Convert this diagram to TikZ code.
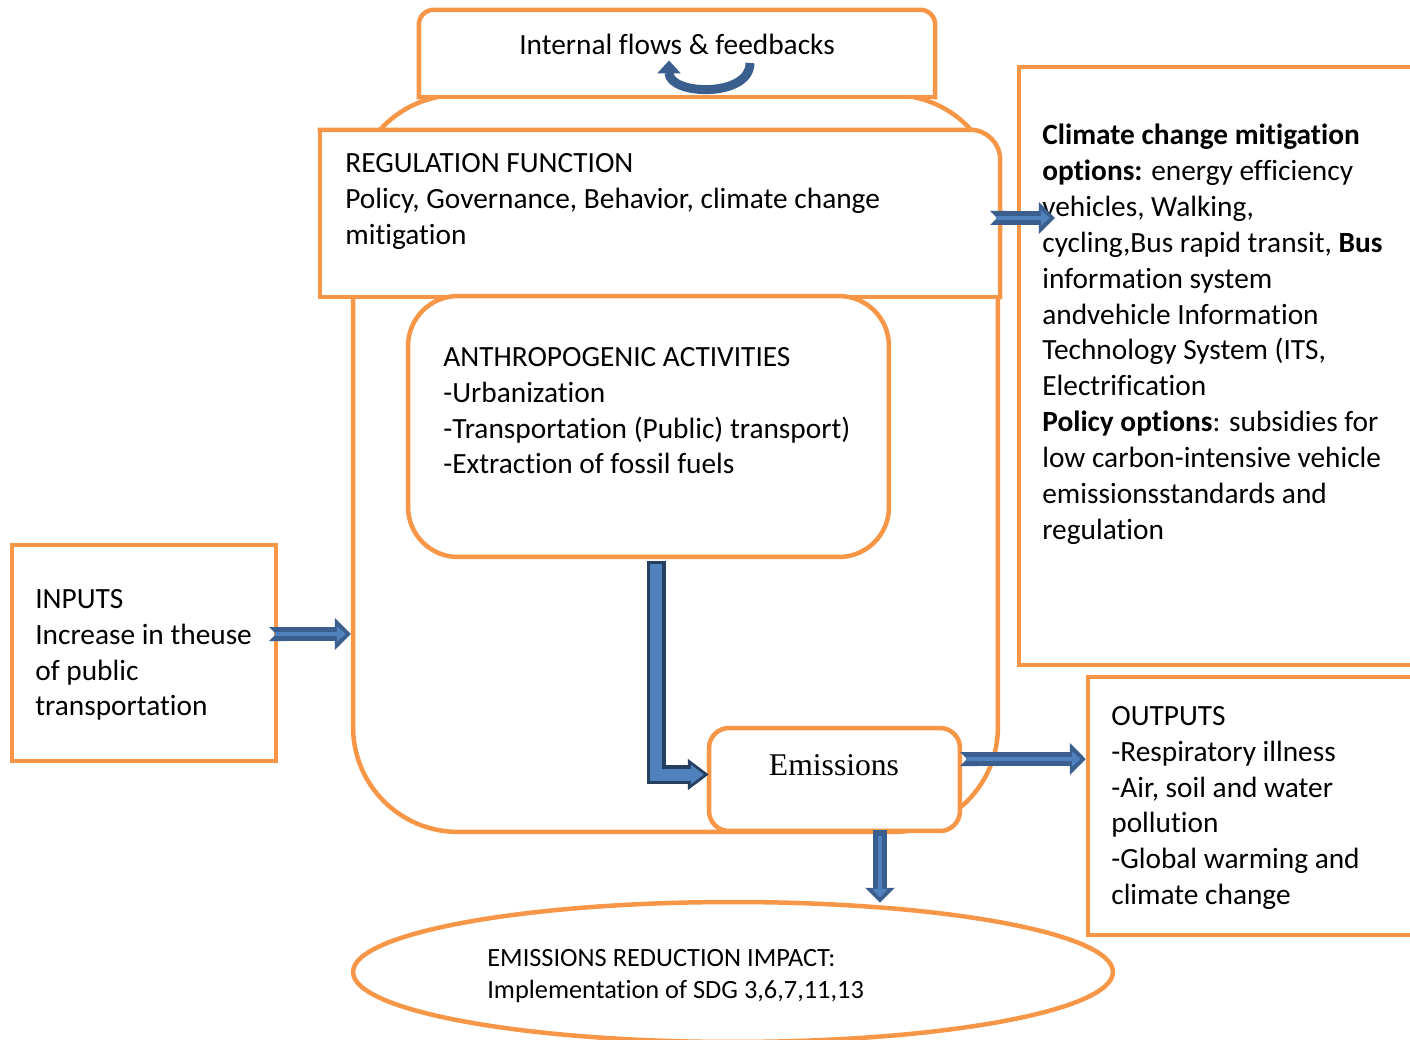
\documentclass[tikz,border=0pt]{standalone}
\usepackage{fontspec}
\setmainfont[Ligatures=NoCommon, Contextuals=NoAlternate]{Carlito}
\newfontfamily\timesfont{Liberation Serif}
\usetikzlibrary{arrows.meta,positioning,calc,shapes.geometric}

\definecolor{boxorange}{HTML}{F79646}
\definecolor{arrowblue}{HTML}{4F81BD}
\definecolor{arrowedge}{HTML}{3A5F8F}
\definecolor{arrowdark}{HTML}{243F60}

\tikzset{
  box/.style={draw=boxorange, line width=0.09cm, fill=white, inner sep=0pt},
  rim/.style={draw=boxorange, line width=0.09cm, line cap=rect},
  txt/.style={align=left, inner sep=0pt, anchor=north west, font=\fontsize{16.7pt}{20.4pt}\selectfont},
  flowout/.style={draw=arrowedge, line width=0.28cm, {Triangle Cap[reversed]}-{Triangle[length=0.32cm,width=0.62cm]}},
  flowin/.style={draw=arrowblue, line width=0.09cm, shorten <=0.12cm, shorten >=0.1cm, -{Triangle[length=0.18cm,width=0.3cm]}},
  elbowout/.style={draw=arrowdark, line width=0.38cm, -{Triangle[length=0.42cm,width=0.6cm]}},
  elbowin/.style={draw=arrowblue, line width=0.24cm, shorten <=0.06cm, shorten >=0.1cm, -{Triangle[length=0.26cm,width=0.38cm]}},
  loop/.style={draw=arrowedge, line width=0.18cm, -{Triangle[length=0.26cm,width=0.46cm]}}
}
\newcommand\flowarrow[3][]{\draw[flowout,#1] (#2) -- (#3); \draw[flowin] (#2) -- (#3);}

\begin{document}
\begin{tikzpicture}[x=0.02cm, y=-0.02cm]
  \useasboundingbox (0,0) rectangle (1410,1040);

  % system frame and internal flows tab
  \node[box, rounded corners=2.1cm, minimum width=12.9cm, minimum height=14.74cm] (sys) at (675.5,463.5) {};
  \node[box, draw=none, minimum width=10.24cm, minimum height=1.66cm] (flows) at (677,53.5) {};
  \draw[rim, rounded corners=0.3cm] (flows.south west) |- (flows.north) -| (flows.south east);
  \draw[rim] (flows.south west) -- (flows.south east);
  \node[txt, anchor=center] (flowstext) at (677,44) {Internal flows \& feedbacks};
  \coordinate (loopA) at ($(flows.center)+(73,9.5)$);
  \coordinate (loopB) at ($(flows.center)+(-8,7)$);
  \draw[loop] (loopA) .. controls +(0,35) and +(0,35) .. (loopB);

  % regulation function
  \node[box, draw=none, minimum width=13.52cm, minimum height=3.26cm] (reg) at (660,213.5) {};
  \draw[rim, rounded corners=0.6cm] (reg.north west) -| (reg.south east);
  \draw[rim] (reg.north west) |- (reg.south east);
  \node[txt] (regtext) at (345,153) {REGULATION FUNCTION\\Policy, Governance, Behavior, climate change\\mitigation};

  % anthropogenic activities
  \node[box, rounded corners=1cm, minimum width=9.62cm, minimum height=5.22cm] (anth) at (648.5,426.5) {};
  \node[txt] (anthtext) at (443,347) {ANTHROPOGENIC ACTIVITIES\\-Urbanization\\-Transportation (Public) transport)\\-Extraction of fossil fuels};

  % emissions
  \node[box, rounded corners=0.4cm, minimum width=5.02cm, minimum height=2.06cm] (emis) at (834.5,779.5) {};
  \node[inner sep=0pt, font=\timesfont\fontsize{18pt}{21pt}\selectfont] (emistext) at (834,765) {Emissions};

  % inputs
  \node[box, minimum width=5.28cm, minimum height=4.32cm] (inp) at (144,653) {};
  \node[txt] (inptext) at (35,589) {INPUTS\\Increase in theuse\\of public\\transportation};

  % mitigation options
  \node[box, minimum width=8.02cm, minimum height=11.96cm] (miti) at (1219.5,366) {};
  \node[txt] (mititext) at (1042,124) {\textbf{Climate change mitigation}\\\textbf{options:} energy efficiency\\vehicles, Walking,\\cycling,Bus rapid transit, \textbf{Bus}\\information system\\andvehicle Information\\Technology System (ITS,\\Electrification\\\textbf{Policy options}: subsidies for\\low carbon-intensive vehicle\\emissionsstandards and\\regulation};

  % outputs
  \node[box, minimum width=6.64cm, minimum height=5.16cm] (outp) at (1254,806) {};
  \node[txt] (outptext) at (1111,706) {OUTPUTS\\-Respiratory illness\\-Air, soil and water\\pollution\\-Global warming and\\climate change};

  % impact
  \node[box, ellipse, minimum width=15.2cm, minimum height=2.8cm] (impact) at (733,972) {};
  \node[txt, font=\fontsize{15pt}{18.1pt}\selectfont] (impacttext) at (487,949) {EMISSIONS REDUCTION IMPACT:\\Implementation of SDG 3,6,7,11,13};

  % arrows
  \coordinate (inA) at ($(inp.east)+(-9,-19)$);
  \flowarrow{inA}{inA -| sys.west}
  \coordinate (regA) at ($(reg.east)+(-10,4.5)$);
  \flowarrow{regA}{$(regA -| miti.west)+(38,0)$}
  \coordinate (outA) at ($(emis.east)+(-2,-20.5)$);
  \flowarrow{outA}{outA -| outp.west}
  \coordinate (downA) at ($(emis.south)+(45.5,-3)$);
  \flowarrow[-{Triangle[length=0.3cm,width=0.58cm]}]{downA}{$(downA |- impact.north)+(0,3)$}
  \coordinate (elA) at ($(anth.south)+(7.5,2)$);
  \coordinate (elB) at ($(emis.west)+(2,-5)$);
  \draw[elbowout] (elA) |- (elB);
  \draw[elbowin] (elA) |- (elB);
\end{tikzpicture}
\end{document}
